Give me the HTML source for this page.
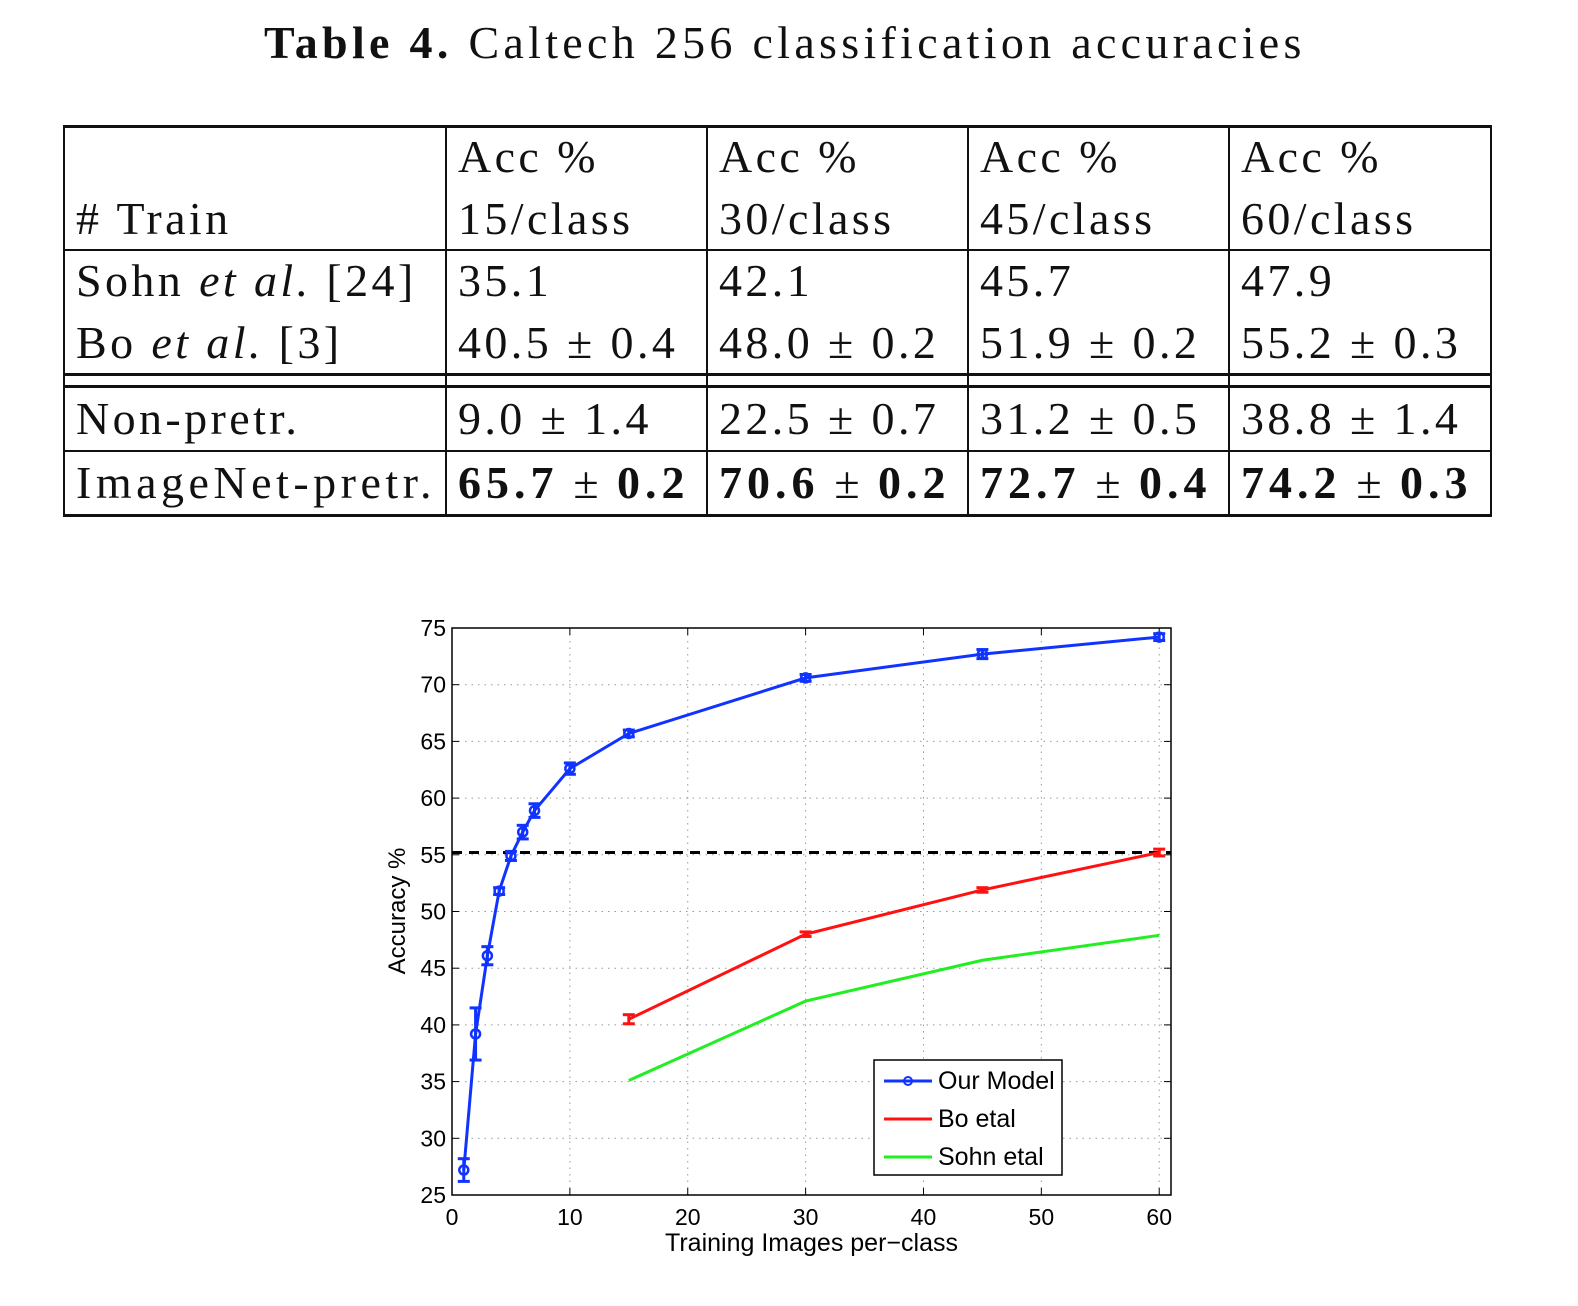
<!DOCTYPE html>
<html><head><meta charset="utf-8"><style>
body{margin:0;background:#fff;width:1578px;height:1306px;position:relative;overflow:hidden}
.t{position:absolute;font-family:"Liberation Serif",serif;font-size:46px;color:#111;white-space:nowrap;line-height:1;letter-spacing:3.4px}
.t b{letter-spacing:5px}
.h{position:absolute;background:#111}
</style></head><body>
<div class="t" style="left:264px;top:20px;font-size:46px;letter-spacing:4.3px"><b style="letter-spacing:4.3px">Table 4.</b> Caltech 256 classification accuracies</div>
<div>
<div class="h" style="left:64px;top:125px;width:1428px;height:3px"></div>
<div class="h" style="left:64px;top:249px;width:1428px;height:2px"></div>
<div class="h" style="left:64px;top:373px;width:1428px;height:3px"></div>
<div class="h" style="left:64px;top:385px;width:1428px;height:3px"></div>
<div class="h" style="left:64px;top:450px;width:1428px;height:2px"></div>
<div class="h" style="left:64px;top:514px;width:1428px;height:3px"></div>
<div class="h" style="left:63px;top:125px;width:2px;height:392px"></div>
<div class="h" style="left:445px;top:125px;width:2px;height:392px"></div>
<div class="h" style="left:706px;top:125px;width:2px;height:392px"></div>
<div class="h" style="left:967px;top:125px;width:2px;height:392px"></div>
<div class="h" style="left:1228px;top:125px;width:2px;height:392px"></div>
<div class="h" style="left:1490px;top:125px;width:2px;height:392px"></div>
<div class="t" style="left:76px;top:196px"># Train</div>
<div class="t" style="left:458px;top:134px">Acc %</div><div class="t" style="left:458px;top:196px">15/class</div>
<div class="t" style="left:719px;top:134px">Acc %</div><div class="t" style="left:719px;top:196px">30/class</div>
<div class="t" style="left:980px;top:134px">Acc %</div><div class="t" style="left:980px;top:196px">45/class</div>
<div class="t" style="left:1241px;top:134px">Acc %</div><div class="t" style="left:1241px;top:196px">60/class</div>
<div class="t" style="left:76px;top:258px">Sohn <i>et al.</i> [24]</div>
<div class="t" style="left:458px;top:258px">35.1</div><div class="t" style="left:719px;top:258px">42.1</div><div class="t" style="left:980px;top:258px">45.7</div><div class="t" style="left:1241px;top:258px">47.9</div>
<div class="t" style="left:76px;top:320px">Bo <i>et al.</i> [3]</div>
<div class="t" style="left:458px;top:320px">40.5 ± 0.4</div><div class="t" style="left:719px;top:320px">48.0 ± 0.2</div><div class="t" style="left:980px;top:320px">51.9 ± 0.2</div><div class="t" style="left:1241px;top:320px">55.2 ± 0.3</div>
<div class="t" style="left:76px;top:396px">Non-pretr.</div>
<div class="t" style="left:458px;top:396px">9.0 ± 1.4</div><div class="t" style="left:719px;top:396px">22.5 ± 0.7</div><div class="t" style="left:980px;top:396px">31.2 ± 0.5</div><div class="t" style="left:1241px;top:396px">38.8 ± 1.4</div>
<div class="t" style="left:76px;top:460px;letter-spacing:4.5px">ImageNet-pretr.</div>
<div class="t" style="left:458px;top:460px"><b>65.7</b> ± <b>0.2</b></div><div class="t" style="left:719px;top:460px"><b>70.6</b> ± <b>0.2</b></div><div class="t" style="left:980px;top:460px"><b>72.7</b> ± <b>0.4</b></div><div class="t" style="left:1241px;top:460px"><b>74.2</b> ± <b>0.3</b></div>
</div>
<svg id="chart" width="1578" height="1306" style="position:absolute;left:0;top:0" font-family="Liberation Sans, sans-serif"></svg>
<script>
const ourX=[1,2,3,4,5,6,7,10,15,30,45,60];
const ourY=[27.2,39.2,46.1,51.8,54.9,57.0,58.9,62.6,65.7,70.6,72.7,74.2];
const ourErr=[1.0,2.3,0.8,0.3,0.4,0.6,0.6,0.5,0.3,0.3,0.4,0.3];
const boX=[15,30,45,60];
const boY=[40.5,48.0,51.9,55.2];
const boErr=[0.4,0.2,0.2,0.3];
const sohnX=[15,30,45,60];
const sohnY=[35.1,42.1,45.7,47.9];
const xTicks=[0,10,20,30,40,50,60];
const yTicks=[25,30,35,40,45,50,55,60,65,70,75];
const baseline=55.2;
const svg=document.getElementById('chart');const NS='http://www.w3.org/2000/svg';
const L=452,R=1171,T=628,B=1195;
const sx=v=>L+(v-0)/61*(R-L);const sy=v=>B-(v-25)/50*(B-T);
function mk(tag,at,parent){const e=document.createElementNS(NS,tag);for(const k in at)e.setAttribute(k,at[k]);(parent||svg).appendChild(e);return e;}
xTicks.forEach(v=>{const x=sx(v);
const g=mk('line',{x1:x,x2:x,y1:T,y2:B,stroke:'#999','stroke-dasharray':'1.5,5'});

mk('line',{x1:x,x2:x,y1:B,y2:B-7,stroke:'#000'});mk('line',{x1:x,x2:x,y1:T,y2:T+7,stroke:'#000'});
const t=mk('text',{x:x,y:B+30,'text-anchor':'middle','font-size':23});t.textContent=v;
});
yTicks.forEach(v=>{const y=sy(v);
const g=mk('line',{x1:L,x2:R,y1:y,y2:y,stroke:'#999','stroke-dasharray':'1.5,5'});

mk('line',{x1:L,x2:L+7,y1:y,y2:y,stroke:'#000'});mk('line',{x1:R,x2:R-7,y1:y,y2:y,stroke:'#000'});
const t=mk('text',{x:L-6,y:y+8,'text-anchor':'end','font-size':23});t.textContent=v;
});
const fr=mk('rect',{x:L,y:T,width:R-L,height:B-T,fill:'none',stroke:'#000','stroke-width':1.5});

const bl=mk('line',{x1:L,x2:R,y1:sy(baseline),y2:sy(baseline),stroke:'#000','stroke-width':3,'stroke-dasharray':'10,7'});

function series(xs,ys,col,name){const p=mk('polyline',{points:xs.map((x,i)=>sx(x)+','+sy(ys[i])).join(' '),fill:'none',stroke:col,'stroke-width':3});
}
function errs(xs,ys,es,col,name){xs.forEach((x,i)=>{const cx=sx(x),a=sy(ys[i]+es[i]),b=sy(ys[i]-es[i]);
const g=mk('g',{stroke:col,'stroke-width':3});
mk('line',{x1:cx,x2:cx,y1:a,y2:b},g);mk('line',{x1:cx-6,x2:cx+6,y1:a,y2:a},g);mk('line',{x1:cx-6,x2:cx+6,y1:b,y2:b},g);});}
series(sohnX,sohnY,'#22ee22','sohn-line');
series(boX,boY,'#ff1111','bo-line');errs(boX,boY,boErr,'#ff1111','bo-errorbar');
series(ourX,ourY,'#1133ff','our-model-line');errs(ourX,ourY,ourErr,'#1133ff','our-errorbar');
ourX.forEach((x,i)=>{const c=mk('circle',{cx:sx(x),cy:sy(ourY[i]),r:4.5,fill:'none',stroke:'#1133ff','stroke-width':2.5});
});
const xl=mk('text',{x:(L+R)/2,y:1251,'text-anchor':'middle','font-size':25});xl.textContent='Training Images per\u2212class';

const yl=mk('text',{x:0,y:0,'text-anchor':'middle','font-size':24,transform:'translate(405,911) rotate(-90)'});yl.textContent='Accuracy %';

const lg=mk('g',{});
mk('rect',{x:874,y:1060,width:188,height:115,fill:'#fff',stroke:'#000','stroke-width':1.5},lg);
[['Our Model','#1133ff',1081],['Bo etal','#ff1111',1119],['Sohn etal','#22ee22',1157]].forEach(([n,c,y],i)=>{
const e=mk('g',{},lg);
mk('line',{x1:884,x2:932,y1:y,y2:y,stroke:c,'stroke-width':3},e);
if(i==0)mk('circle',{cx:908,cy:y,r:4,fill:'none',stroke:c,'stroke-width':2},e);
const t=mk('text',{x:938,y:y+8,'font-size':25},e);t.textContent=n;});
</script>
</body></html>
